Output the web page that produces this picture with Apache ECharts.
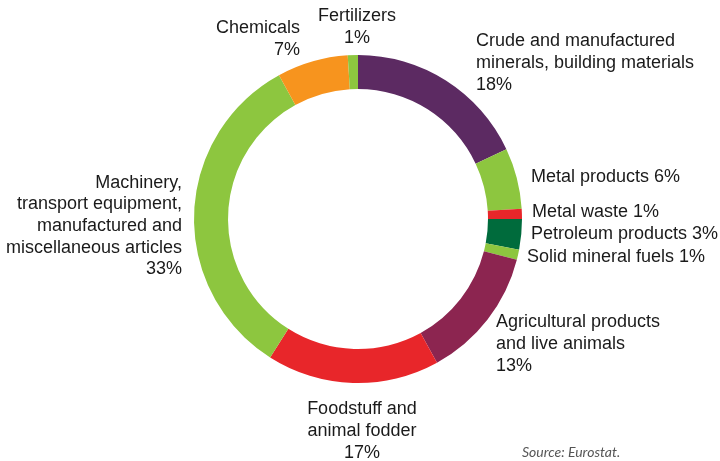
<!DOCTYPE html>
<html>
<head>
<meta charset="utf-8">
<script src="https://cdn.jsdelivr.net/npm/echarts@6/dist/echarts.min.js"></script>
<style>
  html, body { margin: 0; padding: 0; background: #fff; }
  #chart { width: 720px; height: 461px; }
</style>
</head>
<body>
<div id="chart"></div>
<script>
// 类别和占比
const categories = [
  'Crude and manufactured\nminerals, building materials',
  'Metal products',
  'Metal waste',
  'Petroleum products',
  'Solid mineral fuels',
  'Agricultural products\nand live animals',
  'Foodstuff and\nanimal fodder',
  'Machinery,\ntransport equipment,\nmanufactured and\nmiscellaneous articles',
  'Chemicals',
  'Fertilizers'
];
const shares = [18, 6, 1, 3, 1, 13, 17, 33, 7, 1];
const inlineLabels = ['Metal products', 'Metal waste', 'Petroleum products', 'Solid mineral fuels'];

const colors = ['#5c2a62', '#8dc63f', '#e8262a', '#006b3c', '#8dc63f',
  '#8c2550', '#e8262a', '#8dc63f', '#f7941e', '#8dc63f'];

// 标签位置 [x, y, align]
const labelSpots = [
  [476, 63, 'left'],
  [531, 177, 'left'],
  [532, 212, 'left'],
  [531, 234, 'left'],
  [527, 257, 'left'],
  [496, 344, 'left'],
  [362, 431, 'center'],
  [182, 226, 'right'],
  [300, 39, 'right'],
  [357, 27, 'center']
];

const chart = echarts.init(document.getElementById('chart'));

chart.setOption({
  animation: false,
  title: {
    text: 'Source: Eurostat.',
    left: 517,
    top: 440,
    textStyle: {
      fontFamily: 'Lato',
      fontStyle: 'italic',
      fontWeight: 'normal',
      fontSize: 14,
      color: '#555'
    }
  },
  series: [{
    type: 'pie',
    center: [358, 219],
    radius: [130, 164],
    startAngle: 90,
    clockwise: true,
    avoidLabelOverlap: false,
    data: categories.map((name, i) => ({
      name,
      value: shares[i],
      itemStyle: { color: colors[i] }
    })),
    itemStyle: { borderWidth: 0 },
    label: {
      show: true,
      position: 'outside',
      fontFamily: 'Liberation Sans',
      fontSize: 18,
      lineHeight: 21.7,
      color: '#1a1a1a',
      formatter: p => inlineLabels.includes(p.name)
        ? p.name + ' ' + p.value + '%'
        : p.name + '\n' + p.value + '%'
    },
    labelLine: { show: false },
    labelLayout: params => {
      const s = labelSpots[params.dataIndex];
      return { x: s[0], y: s[1], align: s[2], verticalAlign: 'middle' };
    },
    emphasis: { disabled: true }
  }]
});
</script>
</body>
</html>
